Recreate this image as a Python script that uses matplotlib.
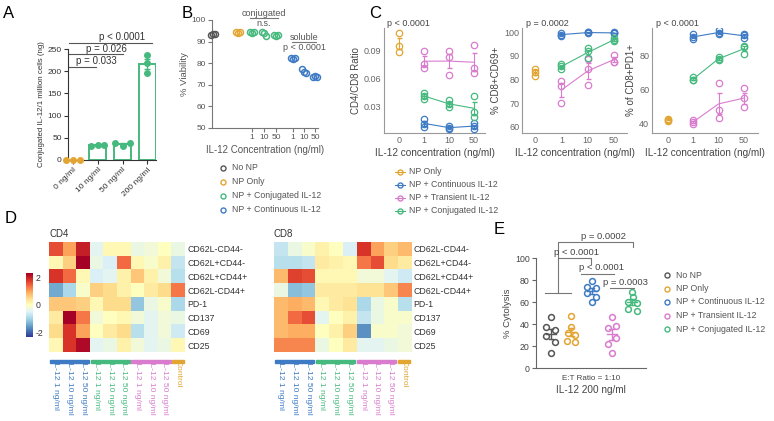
import matplotlib
matplotlib.use('Agg')
import matplotlib.pyplot as plt
import numpy as np
from matplotlib.lines import Line2D
from matplotlib.patches import Rectangle

plt.rcParams['font.family'] = ['Liberation Sans', 'DejaVu Sans']

W, H = 774, 421

GRAY = '#555555'
YELLOW = '#E3A532'
GREEN = '#46B97E'
BLUE = '#3E7BC4'
PINK = '#D97CCE'
TXT = '#333333'
LTXT = '#555555'
SPINE = '#777777'

# ---- data ----
# A: conjugated IL-12 per million cells
a_labels = ['0 ng/ml', '10 ng/ml', '50 ng/ml', '200 ng/ml']
a_values = [[0, 0, 0], [32, 33, 33], [38, 31, 39], [236, 219, 196]]
a_pvals = ['p = 0.033', 'p = 0.026', 'p < 0.0001']

# B: viability
b_groups = ['No NP', 'NP Only', 'NP + Conjugated IL-12', 'NP + Continuous IL-12']
b_conc = ['1', '10', '50']
b_nonp = [93.2, 93.6, 93.3]
b_nponly = [94.4, 94.0, 94.5]
b_conj = [[94.5, 94.2, 94.6], [94.6, 93.8, 92.6], [93.0, 92.8, 93.2]]
b_sol = [[82.5, 82.0, 82.3], [77.5, 75.8, 75.6], [73.5, 74.2, 73.8]]

# C: ratio / activation
c_conc = ['0', '1', '10', '50']
c_groups = ['NP Only', 'NP + Continuous IL-12', 'NP + Transient IL-12', 'NP + Conjugated IL-12']
c_ratio_nponly = [0.1096, 0.0957, 0.0886]
c_ratio_cont = [[0.0169, 0.0115, 0.0089], [0.0093, 0.0075, 0.0068], [0.0125, 0.0093, 0.0068]]
c_ratio_trans = [[0.090, 0.0757, 0.0715], [0.090, 0.0832, 0.0643], [0.0964, 0.0714, 0.066]]
c_ratio_conj = [[0.0453, 0.0418, 0.0382], [0.0375, 0.0329, 0.0297], [0.0418, 0.025, 0.019]]

c_cd69_nponly = [84.4, 83.0, 81.3]
c_cd69_cont = [[99.6, 98.9, 98.5], [99.9, 100.0, 99.7], [99.9, 99.7, 99.6]]
c_cd69_trans = [[79.2, 77.3, 70.0], [84.5, 77.5, 88.7], [90.5, 87.6, 87.2]]
c_cd69_conj = [[86.5, 85.5, 84.4], [93.3, 91.9, 89.0], [97.5, 96.8, 96.1]]

c_pd1_nponly = [42.5, 42.0, 41.5]
c_pd1_cont = [[92.6, 91.2, 89.6], [95.1, 93.5, 92.6], [93.1, 92.1, 90.2]]
c_pd1_trans = [[42.0, 41.0, 39.6], [63.6, 47.9, 43.0], [60.7, 54.8, 49.4]]
c_pd1_conj = [[67.6, 65.6, 65.4], [79.4, 77.4, 77.8], [85.7, 85.3, 81.3]]

c_pvals = ['p < 0.0001', 'p = 0.0002', 'p < 0.0001']
c_ylabels = ['CD4/CD8 Ratio', '% CD8+CD69+', '% of CD8+PD1+']

# D: heatmaps (z-scores)
d_rows = ['CD62L-CD44-', 'CD62L+CD44-', 'CD62L+CD44+', 'CD62L-CD44+', 'PD-1', 'CD137', 'CD69', 'CD25']
d_cols = ['IL-12 1 ng/ml', 'IL-12 10 ng/ml', 'IL-12 50 ng/ml'] * 3 + ['Control']
d_cd4 = np.array([
    [1.6, 1.0, 2.0, -0.4, 0.1, 0.1, -0.3, -0.2, 0.0, -0.3],
    [0.1, 0.6, 2.3, -0.3, -0.5, 1.4, 0.1, -0.1, 0.2, -0.7],
    [1.8, 1.4, 0.1, -0.5, -0.4, 0.2, 0.7, 0.2, -0.2, -0.8],
    [-1.4, -0.9, -0.1, 0.6, 0.5, 0.2, 0.0, 0.3, 0.5, 1.3],
    [0.7, 0.7, 0.6, 0.1, 0.5, 0.5, -1.1, -0.3, -0.1, -0.9],
    [0.3, 2.3, 1.3, -0.2, 0.0, 0.1, -0.2, -0.4, -0.2, -0.3],
    [0.5, 1.8, 1.0, 0.0, 0.3, 0.5, -0.8, -0.4, -0.2, -0.6],
    [0.1, 1.8, 2.2, -0.4, -0.3, 0.2, -0.2, -0.4, -0.3, 0.1],
])
d_cd8 = np.array([
    [-0.7, -0.3, -0.1, 0.2, 0.0, -0.5, 1.8, 1.0, 0.6, 0.8],
    [-0.8, -0.8, -0.7, 0.3, 0.2, 0.1, 1.3, 1.6, 0.5, 0.3],
    [0.8, 1.7, 1.6, 0.1, 0.1, 0.1, -0.2, -0.2, -0.4, -0.6],
    [-0.3, -1.2, -1.1, 0.3, 0.3, 0.3, 0.4, 0.4, 0.7, 1.2],
    [0.8, 0.9, 0.8, 0.1, 0.3, 0.4, -0.9, -0.3, -0.1, -0.8],
    [0.8, 1.4, 1.6, -0.4, 0.0, 0.2, -0.7, -0.3, -0.1, -0.1],
    [0.8, 0.9, 0.9, 0.0, 0.2, 0.6, -1.6, -0.1, -0.1, -0.2],
    [1.2, 1.2, 1.2, -0.3, 0.0, 0.3, -0.4, -0.4, -0.3, -0.2],
])

# E: cytolysis
e_groups = ['No NP', 'NP Only', 'NP + Continuous IL-12', 'NP + Transient IL-12', 'NP + Conjugated IL-12']
e_nonp = [46, 37, 35, 29, 24, 14]
e_nponly = [47, 37, 32, 30, 25, 24]
e_cont = [79, 74, 73, 68, 65, 60]
e_trans = [46, 38, 36, 27, 22, 14]
e_conj = [69, 65, 60, 59, 54, 52]
e_pvals = ['p < 0.0001', 'p = 0.0002', 'p < 0.0001', 'p = 0.0003']


fig = plt.figure(figsize=(W / 100, H / 100), dpi=100)


def fx(px):
    return px / W


def fy(py):
    return 1 - py / H


def add_ax(l, t, r, b):
    return fig.add_axes([l / W, 1 - b / H, (r - l) / W, (b - t) / H])


def sem(v):
    v = np.asarray(v, float)
    return v.std(ddof=1) / np.sqrt(len(v))


def style(ax, col=SPINE, tc=LTXT, fs=6):
    for s in ['top', 'right']:
        ax.spines[s].set_visible(False)
    for s in ['left', 'bottom']:
        ax.spines[s].set_color(col)
        ax.spines[s].set_linewidth(0.8)
    ax.tick_params(colors=col, labelcolor=tc, labelsize=fs, width=0.8, length=3, pad=1.5)


def legend_rows(x, y0, dy, labels, colors, line=False, fs=6.3):
    for i, (lab, col) in enumerate(zip(labels, colors)):
        y = y0 + i * dy
        if line:
            fig.add_artist(Line2D([fx(x - 5), fx(x + 5)], [fy(y), fy(y)], color=col, lw=0.8,
                                  transform=fig.transFigure))
        fig.add_artist(Line2D([fx(x)], [fy(y)], marker='o', ms=3.6, mfc='none', mec=col, mew=1,
                              transform=fig.transFigure))
        fig.text(fx(x + 9), fy(y), lab, va='center', ha='left', fontsize=fs, color=LTXT)


# ---------- A ----------
ax = add_ax(68, 49, 156, 160)
style(ax, col='#333333', tc='#333333', fs=6)
a_off = [[-0.28, 0, 0.28], [-0.27, 0, 0.27], [-0.3, 0.02, 0.3], [0, 0, 0]]
for i, vals in enumerate(a_values):
    col = YELLOW if i == 0 else GREEN
    m = np.mean(vals)
    if i > 0:
        ax.bar(i, m, width=0.68, facecolor='white', edgecolor=GREEN, lw=1.4, zorder=2)
        ax.errorbar(i, m, yerr=sem(vals), color=GREEN, capsize=2.5, lw=1, zorder=3)
    ax.scatter(np.array(a_off[i]) + i, vals, s=16, color=col, zorder=4, clip_on=False)
ax.set_xlim(-0.2, 3.35)
ax.set_ylim(0, 250)
ax.set_yticks([0, 50, 100, 150, 200, 250])
ax.set_xticks(range(4))
ax.set_xticklabels(a_labels, rotation=45, ha='right', rotation_mode='anchor')
ax.set_ylabel('Conjugated IL-12/1 million cells (ng)', fontsize=5.7, color='#333333', labelpad=2)
line_y = [210, 238, 263]
line_x1 = [0.93, 2.0, 3.2]
text_x = [0.93, 1.35, 1.98]
text_y = [222, 250, 277]
for k in range(3):
    ax.plot([-0.15, line_x1[k]], [line_y[k], line_y[k]], color='#555555', lw=0.8, clip_on=False)
    ax.text(text_x[k], text_y[k], a_pvals[k], ha='center', va='center', fontsize=7, color='#333333')
fig.text(fx(3), fy(13), 'A', fontsize=12, va='center', ha='left')

# ---------- B ----------
ax = add_ax(212, 20, 318, 128)
style(ax, fs=6)
b_pos = [0.1, 2.6, 4.0, 5.2, 6.4, 8.1, 9.2, 10.3]
b_series = [b_nonp, b_nponly] + b_conj + b_sol
b_cols = [GRAY, YELLOW] + [GREEN] * 3 + [BLUE] * 3
b_jit = [-0.2, 0.0, 0.2]
for p, vals, col in zip(b_pos, b_series, b_cols):
    ax.plot(np.array(b_jit) + p, vals, 'o', ms=4.3, mfc='none', mec=col, mew=1.1, clip_on=False, zorder=3)
ax.set_xlim(0, 10.6)
ax.set_ylim(50, 100)
ax.set_yticks([50, 60, 70, 80, 90, 100])
ax.set_xticks(b_pos[2:])
ax.set_xticklabels(b_conc * 2)
ax.set_xlabel('IL-12 Concentration (ng/ml)', fontsize=7, color=LTXT, labelpad=3)
ax.set_ylabel('% Viability', fontsize=6.8, color=LTXT, labelpad=2)
ax.plot([3.8, 6.6], [100.9, 100.9], color='#777777', lw=0.8, clip_on=False)
ax.text(5.2, 102.9, 'conjugated', ha='center', va='center', fontsize=6.5, color=LTXT)
ax.text(5.2, 98.3, 'n.s.', ha='center', va='center', fontsize=6.5, color=LTXT)
ax.plot([8.0, 10.4], [89.8, 89.8], color='#777777', lw=0.8, clip_on=False)
ax.text(9.2, 92.0, 'soluble', ha='center', va='center', fontsize=6.5, color=LTXT)
ax.text(9.2, 87.3, 'p < 0.0001', ha='center', va='center', fontsize=6.5, color=LTXT)
legend_rows(223, 168, 14, b_groups, [GRAY, YELLOW, GREEN, BLUE])
fig.text(fx(182), fy(13), 'B', fontsize=12, va='center', ha='left')

# ---------- C ----------
c_sets = [
    (c_ratio_nponly, c_ratio_cont, c_ratio_trans, c_ratio_conj),
    (c_cd69_nponly, c_cd69_cont, c_cd69_trans, c_cd69_conj),
    (c_pd1_nponly, c_pd1_cont, c_pd1_trans, c_pd1_conj),
]
c_boxes = [(384, 485), (522, 627), (652, 758)]
c_xlims = [(-0.6, 3.44), (-0.5, 3.5), (-0.63, 3.56)]
c_ylims = [(0.00214, 0.1146), (57.3, 101.8), (34.3, 96.4)]
c_yticks = [[0.03, 0.06, 0.09], [60, 70, 80, 90, 100], [40, 60, 80]]
c_ptx = [387, 526, 656]
for k, (nponly, cont, trans, conj) in enumerate(c_sets):
    l, r = c_boxes[k]
    ax = add_ax(l, 28, r, 133)
    style(ax, col='#999999', tc='#666666', fs=6.5)
    ax.tick_params(length=0, pad=2)
    ax.errorbar([0], [np.mean(nponly)], yerr=[sem(nponly)], color=YELLOW, lw=0.8, capsize=1.8, zorder=2)
    ax.plot([0, 0, 0], nponly, 'o', ms=4.6, mfc='none', mec=YELLOW, mew=0.9, zorder=3)
    for grp, col in [(cont, BLUE), (trans, PINK), (conj, GREEN)]:
        xs = np.arange(1, 4)
        means = [np.mean(v) for v in grp]
        errs = [sem(v) for v in grp]
        ax.errorbar(xs, means, yerr=errs, color=col, lw=0.8, capsize=1.8, zorder=2)
        for x, v in zip(xs, grp):
            ax.plot([x] * len(v), v, 'o', ms=4.6, mfc='none', mec=col, mew=0.9, zorder=3)
    ax.set_xlim(*c_xlims[k])
    ax.set_ylim(*c_ylims[k])
    ax.set_yticks(c_yticks[k])
    if k == 0:
        ax.set_yticklabels(['0.03', '0.06', '0.09'])
    ax.set_xticks(range(4))
    ax.set_xticklabels(c_conc)
    ax.set_xlabel('IL-12 concentration (ng/ml)', fontsize=7.2, color='#444444', labelpad=2)
    ax.set_ylabel(c_ylabels[k], fontsize=7, color='#444444', labelpad=2)
    fig.text(fx(c_ptx[k]), fy(24), c_pvals[k], fontsize=6.5, color='#444444', va='center', ha='left')
legend_rows(400, 171.5, 13, c_groups, [YELLOW, BLUE, PINK, GREEN], line=True)
fig.text(fx(369), fy(13), 'C', fontsize=12, va='center', ha='left')

# ---------- D ----------
d_colcolors = [BLUE] * 3 + [GREEN] * 3 + [PINK] * 3 + [YELLOW]
for title, mat, (l, r) in [('CD4', d_cd4, (49, 185)), ('CD8', d_cd8, (274, 411))]:
    ax = add_ax(l, 242, r, 352)
    im = ax.imshow(mat, cmap='RdYlBu_r', vmin=-2.3, vmax=2.3, aspect='auto', interpolation='nearest')
    for s in ax.spines.values():
        s.set_visible(False)
    ax.yaxis.tick_right()
    ax.set_yticks(range(len(d_rows)))
    ax.set_yticklabels(d_rows, fontsize=6.3, color='#333333')
    ax.set_xticks(range(len(d_cols)))
    ax.set_xticklabels(d_cols, rotation=-90, fontsize=6.1, va='top', ha='center')
    for t, c in zip(ax.get_xticklabels(), d_colcolors):
        t.set_color(c)
    ax.tick_params(length=0, pad=1.5)
    ax.tick_params(axis='x', pad=5.5)
    for g0, g1, c in [(0, 3, BLUE), (3, 6, GREEN), (6, 9, PINK), (9, 10, YELLOW)]:
        ax.add_patch(Rectangle((g0 - 0.5 + 0.06, 8.05), g1 - g0 - 0.12, 0.28, color=c, clip_on=False))
    ax.text(-0.5, -0.7, title, fontsize=7, color='#333333', ha='left', va='bottom')
cax = add_ax(26, 273, 33, 337)
cb = fig.colorbar(im, cax=cax, ticks=[-2, 0, 2])
cb.ax.set_yticklabels(['-2', '0', '2'])
cb.outline.set_visible(False)
cb.ax.tick_params(length=0, labelsize=6.3, labelcolor='#333333', pad=2)
fig.text(fx(5), fy(219), 'D', fontsize=12, va='center', ha='left')

# ---------- E ----------
ax = add_ax(536, 258, 646, 368)
style(ax, col='#666666', tc='#444444', fs=6.3)
ax.set_xticks([])
e_series = [e_nonp, e_nponly, e_cont, e_trans, e_conj]
e_cols = [GRAY, YELLOW, BLUE, PINK, GREEN]
e_off = [[0, -0.25, 0.22, -0.25, 0.22, 0],
         [0, 0, -0.17, 0.17, -0.2, 0.2],
         [0, -0.22, 0.22, -0.22, 0.22, 0],
         [0, 0.2, -0.2, 0.2, -0.2, 0],
         [0, 0.03, -0.2, 0.25, -0.2, 0.25]]
for i, (vals, col) in enumerate(zip(e_series, e_cols)):
    m = np.mean(vals)
    s = sem(vals)
    ax.plot([i - 0.25, i + 0.25], [m, m], color=col, lw=1, zorder=2)
    ax.plot([i, i], [m - s, m + s], color=col, lw=1, zorder=2)
    ax.plot([i - 0.12, i + 0.12], [m - s, m - s], color=col, lw=1, zorder=2)
    ax.plot([i - 0.12, i + 0.12], [m + s, m + s], color=col, lw=1, zorder=2)
    ax.plot(np.array(e_off[i]) + i, vals, 'o', ms=4.2, mfc='none', mec=col, mew=1.1, zorder=3)
ax.set_xlim(-0.74, 4.68)
ax.set_ylim(0, 100)
ax.set_yticks([0, 20, 40, 60, 80, 100])
ax.set_ylabel('% Cytolysis', fontsize=6.8, color='#444444', labelpad=2)
bk = dict(color='#777777', lw=0.8, clip_on=False)
ax.plot([-0.3, 0.97], [68, 68], **bk)
ax.plot([0.33, 0.33, 1.97, 1.97], [68, 100, 100, 95], **bk)
ax.plot([0.33, 0.33, 4.04, 4.04], [100, 115, 115, 110], **bk)
ax.plot([1.5, 3.1], [85.4, 85.4], **bk)
ax.plot([2.9, 4.1], [72.6, 72.6], **bk)
for x, y, t in [(1.27, 104.6, e_pvals[0]), (2.57, 119.8, e_pvals[1]),
                (2.5, 91.5, e_pvals[2]), (3.65, 78, e_pvals[3])]:
    ax.text(x, y, t, ha='center', va='center', fontsize=6.8, color='#444444')
fig.text(fx(591), fy(378), 'E:T Ratio = 1:10', fontsize=5.8, color='#444444', ha='center', va='center')
fig.text(fx(591), fy(390), 'IL-12 200 ng/ml', fontsize=7.2, color='#444444', ha='center', va='center')
legend_rows(667, 275, 13.5, e_groups, e_cols)
fig.text(fx(494), fy(229), 'E', fontsize=12, va='center', ha='left')

fig.savefig('out.png', dpi=100)
